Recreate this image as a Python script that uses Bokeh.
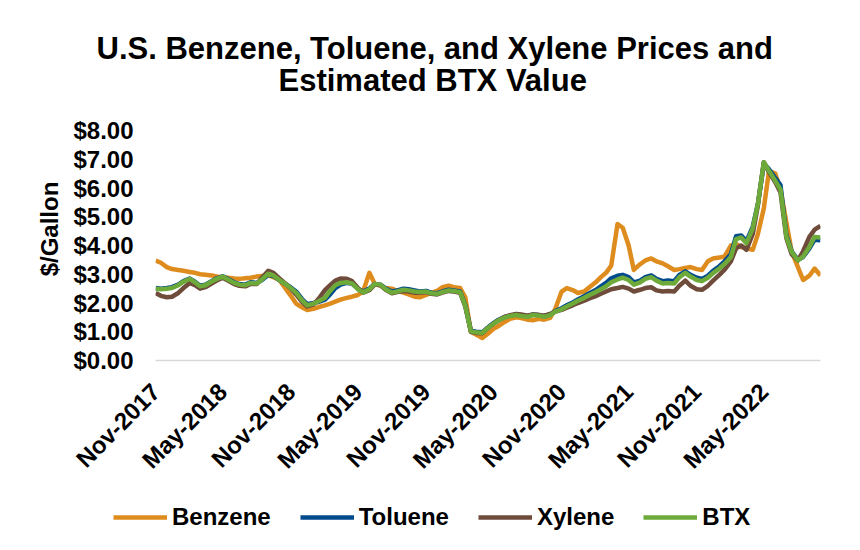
import pandas as pd
from math import pi
from bokeh.plotting import figure
from bokeh.layouts import column
from bokeh.models import (Range1d, FixedTicker, DatetimeTickFormatter,
                          NumeralTickFormatter, Legend, LegendItem, Title)
from bokeh.embed import file_html
from bokeh.resources import INLINE

# semi-monthly observations, Nov-2017 .. Oct-2022
dates = pd.date_range("2017-11-01", "2022-10-01", freq="SMS")

benzene = [
    3.48, 3.40, 3.25, 3.18, 3.15, 3.12, 3.08, 3.05, 3.00, 2.98, 2.96, 2.92,
    2.90, 2.88, 2.85, 2.84, 2.86, 2.88, 2.92, 2.94, 2.96, 2.90, 2.80, 2.55,
    2.25, 1.98, 1.85, 1.76, 1.80, 1.86, 1.92, 1.98, 2.05, 2.12, 2.18, 2.22,
    2.28, 2.40, 3.05, 2.68, 2.60, 2.52, 2.50, 2.42, 2.36, 2.30, 2.22, 2.20,
    2.28, 2.35, 2.42, 2.55, 2.60, 2.55, 2.52, 2.20, 1.00, 0.90, 0.78, 0.92,
    1.10, 1.20, 1.35, 1.45, 1.50, 1.48, 1.42, 1.40, 1.45, 1.42, 1.48, 1.80,
    2.40, 2.52, 2.45, 2.35, 2.40, 2.55, 2.72, 2.90, 3.05, 3.30, 4.75, 4.62,
    4.00, 3.15, 3.35, 3.48, 3.55, 3.45, 3.38, 3.28, 3.15, 3.18, 3.22, 3.25,
    3.18, 3.15, 3.45, 3.55, 3.58, 3.62, 4.00, 4.05, 3.95, 3.90, 3.85, 4.40,
    5.30, 6.60, 6.50, 5.95, 4.80, 3.80, 3.25, 2.80, 2.95, 3.20, 2.96,
]

toluene = [
    2.52, 2.50, 2.52, 2.55, 2.64, 2.76, 2.85, 2.74, 2.60, 2.64, 2.76, 2.86,
    2.93, 2.84, 2.72, 2.66, 2.64, 2.72, 2.70, 2.80, 2.98, 2.94, 2.80, 2.68,
    2.54, 2.40, 2.14, 1.96, 2.00, 2.04, 2.12, 2.30, 2.52, 2.64, 2.70, 2.68,
    2.50, 2.40, 2.50, 2.66, 2.64, 2.50, 2.40, 2.44, 2.50, 2.48, 2.44, 2.40,
    2.42, 2.36, 2.34, 2.40, 2.46, 2.44, 2.40, 1.92, 1.04, 1.00, 0.98, 1.14,
    1.30, 1.42, 1.52, 1.56, 1.60, 1.57, 1.54, 1.60, 1.58, 1.54, 1.60, 1.72,
    1.82, 1.92, 2.02, 2.12, 2.24, 2.34, 2.45, 2.58, 2.70, 2.86, 2.95, 2.98,
    2.90, 2.72, 2.78, 2.90, 2.96, 2.84, 2.76, 2.78, 2.76, 2.98, 3.10, 2.98,
    2.88, 2.84, 2.95, 3.12, 3.28, 3.45, 3.70, 4.32, 4.35, 4.15, 4.65, 5.45,
    6.85, 6.65, 6.35, 6.10, 4.35, 3.80, 3.50, 3.60, 3.90, 4.20, 4.18,
]

xylene = [
    2.35, 2.25, 2.20, 2.22, 2.35, 2.52, 2.70, 2.62, 2.50, 2.55, 2.68, 2.78,
    2.88, 2.78, 2.66, 2.60, 2.58, 2.66, 2.66, 2.88, 3.12, 3.05, 2.86, 2.70,
    2.50, 2.30, 2.04, 1.88, 1.95, 2.15, 2.45, 2.62, 2.78, 2.85, 2.84, 2.76,
    2.52, 2.36, 2.45, 2.64, 2.62, 2.46, 2.34, 2.38, 2.42, 2.40, 2.36, 2.36,
    2.38, 2.32, 2.30, 2.36, 2.42, 2.40, 2.36, 1.88, 1.00, 0.96, 0.95, 1.12,
    1.28, 1.40, 1.52, 1.58, 1.62, 1.60, 1.56, 1.60, 1.58, 1.56, 1.62, 1.70,
    1.76, 1.84, 1.92, 2.00, 2.08, 2.16, 2.24, 2.32, 2.40, 2.48, 2.52, 2.56,
    2.50, 2.40, 2.46, 2.52, 2.55, 2.44, 2.40, 2.42, 2.40, 2.60, 2.78, 2.60,
    2.48, 2.46, 2.60, 2.78, 2.98, 3.16, 3.45, 3.90, 4.00, 3.85, 4.40, 5.40,
    6.90, 6.55, 6.20, 5.85, 4.25, 3.70, 3.48, 3.80, 4.30, 4.55, 4.68,
]

btx = [
    2.50, 2.48, 2.50, 2.52, 2.62, 2.74, 2.84, 2.72, 2.58, 2.62, 2.75, 2.84,
    2.92, 2.82, 2.70, 2.64, 2.62, 2.70, 2.68, 2.82, 3.02, 2.96, 2.80, 2.68,
    2.52, 2.36, 2.10, 1.92, 1.98, 2.06, 2.18, 2.42, 2.62, 2.70, 2.72, 2.68,
    2.48, 2.37, 2.48, 2.66, 2.64, 2.48, 2.36, 2.40, 2.46, 2.44, 2.40, 2.38,
    2.40, 2.34, 2.32, 2.38, 2.44, 2.42, 2.38, 1.90, 1.02, 0.98, 0.96, 1.12,
    1.28, 1.40, 1.50, 1.55, 1.58, 1.55, 1.52, 1.58, 1.56, 1.52, 1.58, 1.70,
    1.78, 1.88, 1.98, 2.08, 2.18, 2.28, 2.38, 2.48, 2.58, 2.72, 2.82, 2.88,
    2.80, 2.64, 2.72, 2.84, 2.90, 2.78, 2.68, 2.70, 2.68, 2.90, 3.05, 2.92,
    2.80, 2.76, 2.88, 3.04, 3.20, 3.36, 3.60, 4.22, 4.28, 4.08, 4.60, 5.45,
    6.90, 6.60, 6.25, 5.95, 4.30, 3.78, 3.48, 3.62, 3.95, 4.30, 4.28,
]

series_names = ["Benzene", "Toluene", "Xylene", "BTX"]
series_values = [benzene, toluene, xylene, btx]
series_colors = ["#DE8C1E", "#004B8D", "#6E4B3A", "#6DAA3A"]

tick_months = ["2017-11-01", "2018-05-01", "2018-11-01", "2019-05-01",
               "2019-11-01", "2020-05-01", "2020-11-01", "2021-05-01",
               "2021-11-01", "2022-05-01"]
y_ticks = [0, 1, 2, 3, 4, 5, 6, 7, 8]

title_lines = ["U.S. Benzene, Toluene, and Xylene Prices and", "Estimated BTX Value"]

FONT = "Liberation Sans"
W = 850

p = figure(width=W, height=495, x_axis_type="datetime",
           output_backend="svg", toolbar_location=None,
           x_range=Range1d(dates[0] - pd.Timedelta(hours=12), dates[-1]),
           y_range=Range1d(0, 9.15),
           min_border_left=155, min_border_right=30,
           min_border_top=97, min_border_bottom=135)
p.frame_align = False

t1 = Title(text=title_lines[0], align="left", offset=-59, standoff=-11,
           text_font=FONT, text_font_style="bold", text_font_size="31px",
           text_color="#000000")
t2 = Title(text=title_lines[1], align="left", offset=123, standoff=0,
           text_font=FONT, text_font_style="bold", text_font_size="31px",
           text_color="#000000")
p.add_layout(t2, "above")
p.add_layout(t1, "above")

p.outline_line_color = None
p.xgrid.visible = False
p.ygrid.visible = False
p.background_fill_color = "white"
p.border_fill_color = "white"

for name, vals, col in zip(series_names, series_values, series_colors):
    p.line(dates, vals, line_color=col, line_width=4.5, line_join="round")

# x axis
xa = p.xaxis[0]
xa.ticker = FixedTicker(ticks=[pd.Timestamp(d).timestamp() * 1000 for d in tick_months])
xa.formatter = DatetimeTickFormatter(years="%b-%Y", months="%b-%Y", days="%b-%Y",
                                     hours="%b-%Y", minutes="%b-%Y", seconds="%b-%Y",
                                     milliseconds="%b-%Y", microseconds="%b-%Y",
                                     minsec="%b-%Y", hourmin="%b-%Y")
xa.major_label_orientation = pi / 4
xa.major_label_text_font = FONT
xa.major_label_text_font_style = "bold"
xa.major_label_text_font_size = "24px"
xa.major_label_text_color = "#000000"
xa.major_label_standoff = 27
xa.axis_line_color = "#d9d9d9"
xa.axis_line_width = 1.5
xa.major_tick_line_color = None
xa.minor_tick_line_color = None
xa.major_tick_out = 0
xa.minor_tick_out = 0

# y axis
ya = p.yaxis[0]
ya.ticker = FixedTicker(ticks=y_ticks)
ya.formatter = NumeralTickFormatter(format="$0.00")
ya.major_label_text_font = FONT
ya.major_label_text_font_style = "bold"
ya.major_label_text_font_size = "24px"
ya.major_label_text_color = "#000000"
ya.major_label_standoff = 22
ya.axis_line_color = None
ya.major_tick_line_color = None
ya.minor_tick_line_color = None
ya.major_tick_out = 0
ya.minor_tick_out = 0
ya.axis_label = "$/Gallon"
ya.axis_label_text_font = FONT
ya.axis_label_text_font_style = "bold"
ya.axis_label_text_font_size = "24px"
ya.axis_label_text_color = "#000000"
ya.axis_label_standoff = 7

# legend strip below the chart, its own full-width frame
lf = figure(width=W, height=50, output_backend="svg", toolbar_location=None,
            x_axis_location=None, y_axis_location=None,
            x_range=Range1d(0, 1), y_range=Range1d(0, 1),
            min_border=0)
lf.frame_align = False
lf.outline_line_color = None
lf.xgrid.visible = False
lf.ygrid.visible = False
nan = float("nan")
keys = [lf.line(x=[nan], y=[nan], line_color=col, line_width=4.5) for col in series_colors]
legend = Legend(items=[LegendItem(label=n, renderers=[r]) for n, r in zip(series_names, keys)],
                orientation="horizontal", location=(113, 14),
                glyph_width=54, glyph_height=24, label_standoff=5, spacing=29,
                padding=0, margin=0, border_line_color=None,
                background_fill_alpha=0,
                label_text_font=FONT, label_text_font_style="bold",
                label_text_font_size="24px", label_text_color="#000000")
lf.add_layout(legend)

layout = column(p, lf, spacing=0)
open("out.html", "w").write(file_html(layout, INLINE))
